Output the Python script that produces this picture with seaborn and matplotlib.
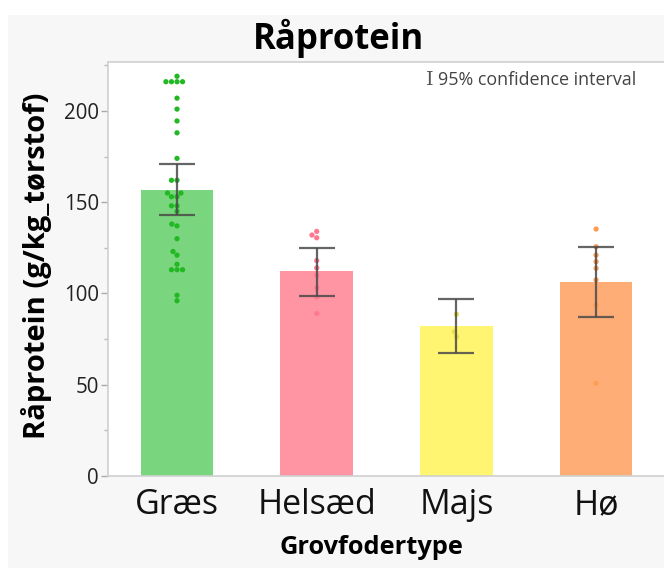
import numpy as np
import pandas as pd
import matplotlib
matplotlib.use("Agg")
import matplotlib.pyplot as plt
from matplotlib.patches import Rectangle
from matplotlib.ticker import MultipleLocator
import seaborn as sns

categories = ["Græs", "Helsæd", "Majs", "Hø"]
means = [156.7, 112.3, 82.2, 106.3]
ci_low = [143.0, 98.6, 67.4, 87.0]
ci_high = [171.0, 125.0, 97.0, 125.5]

graes = [219, 216, 216, 216, 216, 207, 201, 194.5, 188, 174, 162, 162, 155, 155,
         153, 153, 148, 148, 145, 138, 137, 130, 123, 121, 116, 113, 113, 113, 99, 96]
helsaed = [134, 132, 130.5, 118, 114, 110, 103, 98, 89]
majs = [88.6, 79, 76.3]
hoe = [135.3, 125.6, 121, 117.4, 113.8, 107.4, 93.7, 50.8]

bar_colors = ["#7ad67e", "#ff94a3", "#fff570", "#ffad76"]
point_colors = ["#22b824", "#ff7a90", "#ebe04a", "#ff9d55"]

FONT = ["Open Sans", "DejaVu Sans"]

sns.set_theme(style="white")
plt.rcParams["font.family"] = FONT

fig = plt.figure(figsize=(6.64, 5.68), dpi=100, facecolor="white")
fig.patches.append(Rectangle((8 / 664, 0), 1, (568 - 15) / 568, transform=fig.transFigure,
                             facecolor="#f7f7f7", edgecolor="none", zorder=-10))
ax = fig.add_axes([108 / 664, (568 - 476) / 568, (664 - 108) / 664, (476 - 62) / 568])
ax.set_facecolor("white")

bar_df = pd.DataFrame({"type": categories, "mean": means})
sns.barplot(data=bar_df, x="type", y="mean", hue="type", palette=bar_colors,
            order=categories, width=0.52, errorbar=None, legend=False, ax=ax,
            saturation=1, edgecolor="none")

pts = pd.DataFrame({
    "type": ["Græs"] * len(graes) + ["Helsæd"] * len(helsaed) + ["Majs"] * len(majs) + ["Hø"] * len(hoe),
    "val": graes + helsaed + majs + hoe,
})
sns.swarmplot(data=pts, x="type", y="val", hue="type", palette=point_colors,
              order=categories, hue_order=categories, size=3.8, legend=False, ax=ax, zorder=3)

m = np.array(means)
yerr = np.vstack([m - np.array(ci_low), np.array(ci_high) - m])
ax.errorbar(np.arange(len(categories)), m, yerr=yerr, fmt="none", ecolor="#4a4a4a",
            elinewidth=1.6, capsize=13, capthick=1.6, alpha=0.85, zorder=4)

ax.set_xlim(-0.494, 3.486)
ax.set_ylim(0, 226.8)
ax.yaxis.set_major_locator(MultipleLocator(50))
ax.yaxis.set_minor_locator(MultipleLocator(25))
ax.tick_params(axis="y", which="major", left=True, length=5, width=1, color="#aaaaaa",
               labelsize=14.8, pad=1.5, labelcolor="#222222")
ax.tick_params(axis="y", which="minor", left=True, length=3, width=1, color="#bbbbbb")
ax.tick_params(axis="x", bottom=False, labelsize=24.5, pad=3, labelcolor="#111111")
ax.set_xlabel("")
ax.set_ylabel("")
for s in ["left", "top", "bottom"]:
    ax.spines[s].set_color("#d0d0d0")
    ax.spines[s].set_linewidth(1.2)
ax.spines["right"].set_visible(False)

fig.text(339 / 664, 1 - 38 / 568, "Råprotein", ha="center", va="center",
         fontsize=25, fontweight="bold", color="black")
fig.text(37 / 664, 1 - 266 / 568, "Råprotein (g/kg_tørstof)", ha="center", va="center",
         rotation=90, fontsize=21, fontweight="bold", color="black")
fig.text(371 / 664, 1 - 548 / 568, "Grovfodertype", ha="center", va="center",
         fontsize=18.3, fontweight="bold", color="black")

fig.text(430 / 664, 1 - 80 / 568, "I", ha="center", va="center", fontsize=14,
         family=["DejaVu Serif"], color="#555555")
fig.text(438 / 664, 1 - 80 / 568, "95% confidence interval", ha="left", va="center",
         fontsize=12.9, color="#444444")

fig.savefig("out.png", dpi=100, facecolor="white")
